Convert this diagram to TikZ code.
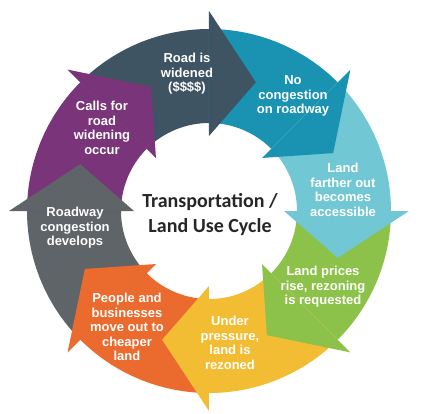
\documentclass[tikz,border=0pt]{standalone}
\usepackage{fontspec}
\setmainfont{Liberation Sans}
\newfontfamily\titlefont{Carlito}
\definecolor{slate}{HTML}{3E5462}
\definecolor{teal}{HTML}{1A93B3}
\definecolor{sky}{HTML}{72C7D5}
\definecolor{leaf}{HTML}{8CC24A}
\definecolor{sun}{HTML}{F3BD33}
\definecolor{flame}{HTML}{EB6B2E}
\definecolor{ash}{HTML}{5F6468}
\definecolor{plum}{HTML}{7A3479}
\definecolor{ink}{HTML}{262626}
\tikzset{
  steptext/.style={text=white,align=center,font=\bfseries\fontsize{13}{14.5}\selectfont},
  titletext/.style={text=ink,align=center,font=\titlefont\bfseries\fontsize{20}{25}\selectfont}
}
\begin{document}
\begin{tikzpicture}[x=1pt,y=1pt]
        \useasboundingbox (-209,-202) rectangle (212,211);
        \foreach \a/\c in {90/slate,45/teal,0/sky,-45/leaf,-90/sun,-135/flame,180/ash,135/plum}
            \fill[\c] (\a+45:182) arc[start angle=\a+45,end angle=\a,radius=182] -- (\a:88) arc[start angle=\a,end angle=\a+45,radius=88] -- cycle;
        \foreach \a/\c in {90/slate,45/teal,0/sky,-45/leaf,-90/sun,-135/flame,180/ash,135/plum}
            \fill[\c] (\a:200) -- (\a-20:137) -- (\a:75) -- cycle;

        \node[titletext] (title) at (1,-4) {Transportation /\\Land Use Cycle};
        \node[steptext] (widened) at (-22,137) {Road is\\widened\\(\$\$\$\$)};
        \node[steptext] (nocongestion) at (84,115) {No\\congestion\\on roadway};
        \node[steptext] (accessible) at (134,21) {Land\\farther out\\becomes\\accessible};
        \node[steptext] (prices) at (114,-76) {Land prices\\rise, rezoning\\is requested};
        \node[steptext] (rezoned) at (21,-132) {Under\\pressure,\\land is\\rezoned};
        \node[steptext] (moveout) at (-82,-116) {People and\\businesses\\move out to\\cheaper\\land};
        \node[steptext] (congestion) at (-134,-17) {Roadway\\congestion\\develops};
        \node[steptext] (calls) at (-107,83) {Calls for\\road\\widening\\occur};
    \end{tikzpicture}
\end{document}
